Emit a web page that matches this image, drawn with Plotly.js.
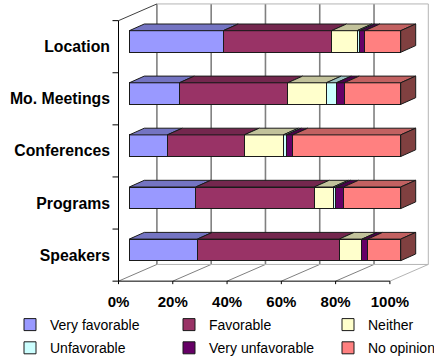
<!DOCTYPE html>
<html><head><meta charset="utf-8">
<script src="https://cdn.plot.ly/plotly-3.0.1.min.js"></script>
<style>html,body{margin:0;padding:0;background:#fff}#chart{width:434px;height:360px}</style>
</head><body><div id="chart"></div>
<script>
// ---------- data ----------
const categories = ['Location', 'Mo. Meetings', 'Conferences', 'Programs', 'Speakers'];
const seriesNames = ['Very favorable', 'Favorable', 'Neither', 'Unfavorable', 'Very unfavorable', 'No opinion'];
const veryFavorable   = [34.6, 18.4, 14.0, 24.5, 25.1];
const favorable       = [39.9, 39.9, 28.4, 43.7, 52.3];
const neither         = [ 9.4, 14.2, 14.4,  7.0,  8.4];
const unfavorable     = [ 0.9,  3.7,  1.1,  0.9,  0.0];
const veryUnfavorable = [ 2.0,  2.9,  2.4,  2.9,  2.1];
const noOpinion       = [13.2, 20.8, 39.8, 21.1, 12.2];
const xTickValues = [0, 20, 40, 60, 80, 100];
const xTickLabels = ['0%', '20%', '40%', '60%', '80%', '100%'];

// ---------- styling / geometry (pixels) ----------
const FONT = 'Liberation Sans, Arial, Helvetica, sans-serif';
const W = 434, H = 360;
const frontColors = ['#9999FF', '#993366', '#FFFFCC', '#CCFFFF', '#660066', '#FF8080'];
const G = {
  barX0: 129.3, pxPerPct: 2.714,   // bar plane: 0% px, px per percent
  barY0: 41.5, pxPerCat: 52.1,     // bar plane: first category centre, px per category
  barThick: 21.6,                  // bar front face height
  barDepth: [15, -6.7],            // bar depth vector
  frontOff: [-10.8, 5.2],          // front plane offset from bar plane
  backOff: [27.6, -11.5]           // back wall offset from bar plane
};
const M = {l: 111, r: 3, t: 2, b: 75, autoexpand: false};
const plotW = W - M.l - M.r, plotH = H - M.t - M.b;

function shade(hex, f) {
  const n = parseInt(hex.slice(1), 16);
  const r = Math.round(((n >> 16) & 255) * f), g = Math.round(((n >> 8) & 255) * f), b = Math.round((n & 255) * f);
  return 'rgb(' + r + ',' + g + ',' + b + ')';
}
const topColors = frontColors.map(c => shade(c, 0.76));
const sideColors = frontColors.map(c => shade(c, 0.5));

const px2x = px => (px - G.barX0) / G.pxPerPct;
const px2y = py => (py - G.barY0) / G.pxPerCat;
const dX = p => p / G.pxPerPct;
const dY = p => p / G.pxPerCat;
const paperX = px => (px - M.l) / plotW;
const paperY = py => (H - M.b - py) / plotH;

const seriesValues = [veryFavorable, favorable, neither, unfavorable, veryUnfavorable, noOpinion];
const totals = categories.map((c, i) => seriesValues.reduce((s, a) => s + a[i], 0));
const pct = seriesValues.map(a => a.map((v, i) => v / totals[i] * 100));
const BAR_W = G.barThick / G.pxPerCat;

const legendIds = ['legend', 'legend2', 'legend3', 'legend', 'legend2', 'legend3'];
const traces = seriesNames.map((name, j) => ({
  type: 'bar', orientation: 'h', name: name,
  x: pct[j], y: categories, width: BAR_W,
  marker: {color: frontColors[j], line: {color: '#1a1a1a', width: 1}},
  legend: legendIds[j], legendgroup: 'g' + j,
  hoverinfo: 'name+x'
}));
// invisible carrier for the front-plane axes (category labels / percent labels)
traces.push({
  type: 'scatter', mode: 'none', xaxis: 'x2', yaxis: 'y2',
  x: categories.map(() => xTickValues[0]), y: categories,
  showlegend: false, hoverinfo: 'skip'
});

// ---------- 3D frame & bar faces ----------
const shapes = [];
function line(x0, y0, x1, y1, color, width, layer) {
  shapes.push({type: 'line', xref: 'x', yref: 'y', x0, y0, x1, y1, layer: layer || 'below',
               line: {color, width}});
}
function poly(pts, fill, layer) {
  const d = 'M' + pts.map(p => p[0] + ',' + p[1]).join('L') + 'Z';
  shapes.push({type: 'path', xref: 'x', yref: 'y', path: d, fillcolor: fill, layer: layer || 'above',
               line: {color: '#1a1a1a', width: 1}});
}
const n = categories.length;
const fx = v => v + dX(G.frontOff[0]), fy = u => u + dY(G.frontOff[1]);
const bx = v => v + dX(G.backOff[0]), by = u => u + dY(G.backOff[1]);
const uTop = -0.5, uBot = n - 0.5;
const maxV = xTickValues[xTickValues.length - 1];

xTickValues.forEach((v) => {
  const last = v === maxV;
  const col = last ? '#b4b4b4' : '#808080';
  line(bx(v), by(uTop), bx(v), by(uBot), col, last ? 1 : 1.6);
  line(fx(v), fy(uBot), bx(v), by(uBot), col, 1);
  line(fx(v), fy(uBot), fx(v), fy(uBot) + dY(3), '#000', 1, 'above');
});
line(bx(0), by(uTop), bx(maxV), by(uTop), '#b4b4b4', 1);
line(bx(0), by(uBot), bx(maxV), by(uBot), '#b4b4b4', 1);
line(fx(0), fy(uTop), bx(0), by(uTop), '#404040', 1);
line(fx(0), fy(uTop), fx(0), fy(uBot), '#000', 1, 'above');
line(fx(0), fy(uBot), fx(maxV), fy(uBot), '#000', 1, 'above');
for (let k = 0; k <= n; k++) {
  line(fx(0) - dX(6), fy(k - 0.5), fx(0), fy(k - 0.5), '#000', 1, 'above');
}
const ddx = dX(G.barDepth[0]), ddy = dY(G.barDepth[1]);
categories.forEach((c, i) => {
  const yT = i - BAR_W / 2, yB = i + BAR_W / 2;
  let s = 0, lastJ = -1;
  pct.forEach((arr, j) => {
    const w = arr[i];
    if (w > 0) {
      poly([[s, yT], [s + w, yT], [s + w + ddx, yT + ddy], [s + ddx, yT + ddy]], topColors[j]);
      lastJ = j;
    }
    s += w;
  });
  poly([[s, yT], [s + ddx, yT + ddy], [s + ddx, yB + ddy], [s, yB]], sideColors[lastJ]);
});

const legendBase = {
  xref: 'paper', yref: 'paper', xanchor: 'left', yanchor: 'top',
  y: paperY(309), orientation: 'v', bgcolor: 'rgba(0,0,0,0)', borderwidth: 0,
  tracegroupgap: 2, font: {family: FONT, size: 14, color: '#000'}
};

const xRange = [px2x(M.l), px2x(W - M.r)];
const yRange = [px2y(H - M.b), px2y(M.t)];
const hiddenAxis = {ticks: '', showgrid: false, zeroline: false, showline: false, showticklabels: false, fixedrange: true};
const labelFont = {family: FONT, size: 15.8, color: '#000', weight: 'bold'};

const layout = {
  width: W, height: H, margin: M,
  paper_bgcolor: '#fff', plot_bgcolor: 'rgba(0,0,0,0)',
  barmode: 'stack', showlegend: true,
  xaxis: Object.assign({range: xRange}, hiddenAxis),
  yaxis: Object.assign({type: 'category', categoryorder: 'array', categoryarray: categories, range: yRange}, hiddenAxis),
  xaxis2: {overlaying: 'x', anchor: 'y2', side: 'bottom',
           range: xRange.map(v => v - dX(G.frontOff[0])),
           tickvals: xTickValues, ticktext: xTickLabels,
           ticks: '', showgrid: false, zeroline: false, showline: false,
           tickfont: {family: FONT, size: 15, color: '#000', weight: 'bold'},
           ticklabelstandoff: 6, fixedrange: true},
  yaxis2: {overlaying: 'y', anchor: 'x2', side: 'left', type: 'category',
           categoryorder: 'array', categoryarray: categories,
           range: yRange.map(v => v - dY(G.frontOff[1])),
           ticks: '', showgrid: false, zeroline: false, showline: false,
           tickfont: labelFont, ticklabelstandoff: 0, fixedrange: true},
  legend: Object.assign({}, legendBase, {x: paperX(10)}),
  legend2: Object.assign({}, legendBase, {x: paperX(169)}),
  legend3: Object.assign({}, legendBase, {x: paperX(328)}),
  shapes: shapes
};

Plotly.newPlot('chart', traces, layout, {displayModeBar: false, staticPlot: true});
</script>
</body></html>
